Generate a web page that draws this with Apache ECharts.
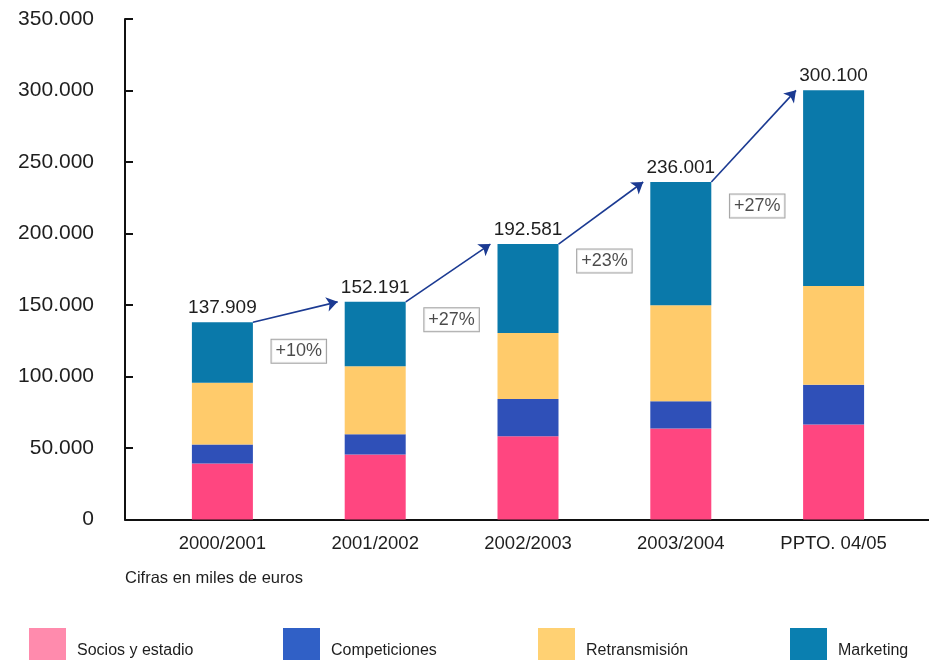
<!DOCTYPE html>
<html><head><meta charset="utf-8">
<script src="https://cdn.jsdelivr.net/npm/echarts@6/dist/echarts.min.js"></script>
<style>html,body{margin:0;padding:0;background:#fff}#c{width:929px;height:660px}</style>
</head><body><div id="c"></div>
<script>
// Data (thousands of euros)
const categories = ['2000/2001', '2001/2002', '2002/2003', '2003/2004', 'PPTO. 04/05'];
const socios = [39100, 45400, 58200, 63600, 66400];
const competiciones = [13300, 14200, 26100, 19100, 27900];
const retransmision = [43300, 47500, 46100, 67100, 68900];
const marketing = [42209, 45091, 62181, 86201, 136900];
const growthLabels = ['+10%', '+27%', '+23%', '+27%'];
const seriesNames = ['Socios y estadio', 'Competiciones', 'Retransmisión', 'Marketing'];

const totals = categories.map((_, i) => socios[i] + competiciones[i] + retransmision[i] + marketing[i]);
function fmt(v) { return String(Math.round(v)).replace(/\B(?=(\d{3})+(?!\d))/g, '.'); }

const FONT = '"Liberation Sans", Arial, Helvetica, sans-serif';
const barColors = ['#ff4680', '#2f50b8', '#ffcb6b', '#0a79aa'];
const legendColors = ['#ff8bad', '#3060c6', '#ffd173', '#0a7fb0'];
const HW = 0.2, GAP = 0.046;
const pctOffsets = [29, 18, 17, 24];

const chart = echarts.init(document.getElementById('c'), null, { renderer: 'canvas' });
const barSeries = [socios, competiciones, retransmision, marketing].map((arr, k) => ({
  name: seriesNames[k], type: 'bar', stack: 'total', xAxisIndex: 1, yAxisIndex: 1,
  barWidth: 61, data: arr, itemStyle: { color: barColors[k] },
  label: k === 3 ? { show: true, position: 'top', distance: 5, fontFamily: FONT, fontSize: 19, color: '#1e1e1e',
    formatter: p => fmt(totals[p.dataIndex]) } : { show: false },
  silent: true
}));

const legendLefts = [29, 283, 538, 790];
const legends = seriesNames.map((n, k) => ({
  left: legendLefts[k], top: 628, padding: 0, itemWidth: 37, itemHeight: 46, icon: 'rect', itemGap: 0,
  selectedMode: false,
  textStyle: { fontFamily: FONT, fontSize: 16, color: '#1e1e1e', padding: [0, 0, 0, 6] },
  data: [{ name: n, itemStyle: { color: legendColors[k] } }]
}));

chart.setOption({
  animation: false,
  backgroundColor: '#fff',
  title: { text: 'Cifras en miles de euros', left: 120, top: 565,
    textStyle: { fontFamily: FONT, fontSize: 16.5, fontWeight: 'normal', color: '#1e1e1e' } },
  legend: legends,
  grid: [
    { left: 125, right: 0, top: 19, bottom: 140.5 },
    { left: 146, right: 19, top: 19, bottom: 140.5 }
  ],
  xAxis: [
    { type: 'value', gridIndex: 0, min: 0, max: 1, axisLine: { show: true, lineStyle: { color: '#111', width: 2 } },
      axisTick: { show: false }, axisLabel: { show: false }, splitLine: { show: false } },
    { type: 'category', gridIndex: 1, data: categories, axisLine: { show: false }, axisTick: { show: false },
      axisLabel: { margin: 15, fontFamily: FONT, fontSize: 18.5, color: '#1e1e1e' } },
    { type: 'value', gridIndex: 1, min: -0.5, max: 4.5, show: false }
  ],
  yAxis: [
    { type: 'value', gridIndex: 0, min: 0, max: 350000, interval: 50000,
      axisLine: { show: true, lineStyle: { color: '#111', width: 2 } },
      axisTick: { show: true, inside: true, length: 8, lineStyle: { color: '#111', width: 2 } },
      axisLabel: { margin: 31, fontFamily: FONT, fontSize: 21, color: '#1e1e1e', formatter: v => fmt(v) },
      splitLine: { show: false } },
    { type: 'value', gridIndex: 1, min: 0, max: 350000, show: false }
  ],
  series: barSeries.concat([
    { type: 'lines', coordinateSystem: 'cartesian2d', xAxisIndex: 2, yAxisIndex: 1, silent: true, z: 5,
      symbol: ['none', 'arrow'], symbolSize: 11,
      lineStyle: { color: '#1b3a92', width: 1.6, opacity: 1, curveness: 0 },
      data: totals.slice(0, -1).map((t, i) => ({ coords: [[i + HW, t], [i + 1 - HW - GAP, totals[i + 1]]] })) },
    { type: 'scatter', xAxisIndex: 2, yAxisIndex: 1, symbolSize: 1, silent: true, z: 6,
      itemStyle: { color: 'rgba(0,0,0,0)' },
      label: { show: true, position: 'inside', fontFamily: FONT, fontSize: 18, color: '#1e1e1e',
        backgroundColor: '#fff', borderColor: '#8c8c8c', borderWidth: 1, padding: [3, 4, 2, 4],
        formatter: p => growthLabels[p.dataIndex] },
      data: growthLabels.map((g, i) => ({ value: [i + 0.5, totals[i]], label: { offset: [0, pctOffsets[i]] } })) }
  ])
});
</script></body></html>
